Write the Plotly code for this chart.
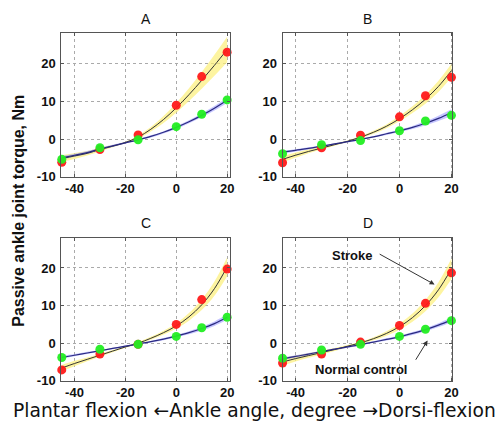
import plotly.graph_objects as go

# ---- data ----
angles = [-45, -30, -15, 0, 10, 20]
curve_x = [-45, -40, -35, -30, -25, -20, -15, -10, -5, 0, 5, 10, 15, 20]
panels = ["A", "B", "C", "D"]

stroke_pts = {
    "A": [-6.2, -2.8, 1.1, 9.0, 16.6, 23.1],
    "B": [-6.3, -2.3, 1.0, 5.9, 11.5, 16.4],
    "C": [-7.1, -2.9, -0.3, 5.0, 11.6, 19.7],
    "D": [-5.3, -2.9, 0.3, 4.7, 10.6, 18.7],
}
control_pts = {
    "A": [-5.4, -2.3, -0.2, 3.3, 6.6, 10.4],
    "B": [-3.9, -1.5, -0.4, 2.2, 4.8, 6.3],
    "C": [-3.8, -1.6, -0.3, 1.8, 4.1, 6.9],
    "D": [-4.0, -1.8, -0.3, 1.8, 3.7, 6.0],
}
stroke_curve = {
    "A": [-5.2, -4.5, -3.8, -2.8, -1.9, -0.9, 0.5, 2.6, 5.2, 8.3, 11.8, 15.6, 19.6, 23.8],
    "B": [-5.4, -4.3, -3.3, -2.4, -1.5, -0.6, 0.5, 1.8, 3.4, 5.4, 7.8, 10.6, 14.0, 18.2],
    "C": [-6.6, -5.4, -4.3, -3.2, -2.1, -1.0, 0.0, 1.3, 2.8, 4.6, 7.0, 10.2, 14.5, 20.3],
    "D": [-5.0, -4.1, -3.3, -2.5, -1.7, -0.8, 0.1, 1.2, 2.6, 4.4, 6.8, 10.0, 14.2, 19.8],
}
stroke_band = {
    "A": [0.9, 0.8, 0.6, 0.5, 0.3, 0.2, 0.4, 0.6, 0.9, 1.3, 1.7, 2.2, 2.8, 3.4],
    "B": [0.8, 0.7, 0.5, 0.4, 0.3, 0.2, 0.3, 0.4, 0.5, 0.7, 0.9, 1.2, 1.5, 1.8],
    "C": [0.8, 0.7, 0.5, 0.4, 0.3, 0.2, 0.3, 0.4, 0.5, 0.7, 1.0, 1.4, 1.9, 2.5],
    "D": [1.0, 0.8, 0.6, 0.5, 0.4, 0.3, 0.3, 0.4, 0.6, 0.8, 1.1, 1.5, 2.0, 2.7],
}
control_curve = {
    "A": [-5.0, -4.3, -3.6, -2.6, -1.8, -1.0, -0.2, 0.7, 1.8, 3.1, 4.6, 6.3, 8.2, 10.3],
    "B": [-3.5, -3.0, -2.5, -1.9, -1.3, -0.7, -0.1, 0.6, 1.4, 2.2, 3.1, 4.2, 5.5, 7.0],
    "C": [-3.8, -3.2, -2.6, -2.0, -1.4, -0.8, -0.2, 0.4, 1.1, 1.9, 2.8, 3.9, 5.2, 6.9],
    "D": [-4.2, -3.5, -2.9, -2.2, -1.6, -1.0, -0.4, 0.3, 1.0, 1.7, 2.6, 3.6, 4.8, 6.2],
}
control_band = {
    "A": [0.5, 0.4, 0.4, 0.3, 0.3, 0.2, 0.2, 0.3, 0.3, 0.4, 0.4, 0.5, 0.6, 0.7],
    "B": [0.4, 0.3, 0.3, 0.2, 0.2, 0.2, 0.2, 0.2, 0.3, 0.3, 0.4, 0.5, 0.7, 0.9],
    "C": [0.4, 0.3, 0.3, 0.2, 0.2, 0.2, 0.2, 0.2, 0.3, 0.3, 0.4, 0.5, 0.6, 0.7],
    "D": [0.4, 0.3, 0.3, 0.2, 0.2, 0.2, 0.2, 0.2, 0.3, 0.3, 0.4, 0.4, 0.5, 0.6],
}
x_ticks = [-40, -20, 0, 20]
x_ticktext = ["-40", "-20", "0", "20"]
y_ticks = [-10, 0, 10, 20]
y_ticktext = ["-10", "0", "10", "20"]

W, H = 499, 431
# pixel boxes (left, right, top, bottom) and axis ranges per panel
boxes = {
    "A": (62, 233, 34, 180),
    "B": (286, 458, 34, 180),
    "C": (62, 233, 242, 388),
    "D": (286, 458, 242, 388),
}
x_ranges = {"A": [-45.2, 21.2], "B": [-45.0, 20.4], "C": [-45.2, 21.2], "D": [-45.0, 20.4]}
y_range = [-10, 28.1]

FONT = "Liberation Sans, Arial, sans-serif"
fig = go.Figure()

for i, p in enumerate(panels):
    n = "" if i == 0 else str(i + 1)
    xa, ya = "x" + n, "y" + n
    su = [c + b for c, b in zip(stroke_curve[p], stroke_band[p])]
    sl = [c - b for c, b in zip(stroke_curve[p], stroke_band[p])]
    cu = [c + b for c, b in zip(control_curve[p], control_band[p])]
    cl = [c - b for c, b in zip(control_curve[p], control_band[p])]
    common = dict(xaxis=xa, yaxis=ya, showlegend=False, hoverinfo="skip")
    # stroke band
    fig.add_trace(go.Scatter(x=curve_x, y=sl, mode="lines", line=dict(width=0, shape="spline"), **common))
    fig.add_trace(go.Scatter(x=curve_x, y=su, mode="lines", line=dict(width=0, shape="spline"),
                             fill="tonexty", fillcolor="rgba(252,240,120,0.7)", **common))
    # control band
    fig.add_trace(go.Scatter(x=curve_x, y=cl, mode="lines", line=dict(width=0, shape="spline"), **common))
    fig.add_trace(go.Scatter(x=curve_x, y=cu, mode="lines", line=dict(width=0, shape="spline"),
                             fill="tonexty", fillcolor="rgba(140,140,255,0.5)", **common))
    # curves
    fig.add_trace(go.Scatter(x=curve_x, y=stroke_curve[p], mode="lines",
                             line=dict(color="#333333", width=1, shape="spline"), **common))
    fig.add_trace(go.Scatter(x=curve_x, y=control_curve[p], mode="lines",
                             line=dict(color="#2a2a80", width=1.2, shape="spline"), **common))
    # points
    fig.add_trace(go.Scatter(x=angles, y=stroke_pts[p], mode="markers",
                             marker=dict(color="#ff1a1a", size=9, opacity=0.95), cliponaxis=False, **common))
    fig.add_trace(go.Scatter(x=angles, y=control_pts[p], mode="markers",
                             marker=dict(color="#22ee22", size=9, opacity=0.95), cliponaxis=False, **common))

    l, r, t, b = boxes[p]
    axis_common = dict(showline=True, linecolor="#555555", linewidth=1, mirror="ticks",
                       ticks="inside", ticklen=3, tickcolor="#555555",
                       showgrid=True, gridcolor="#aaaaaa", griddash="dot", gridwidth=1,
                       zeroline=False, tickfont=dict(family=FONT, size=13, color="#111111", weight="bold"),
                       fixedrange=True)
    fig.update_layout(**{
        "xaxis" + n: dict(domain=[l / W, r / W], anchor=ya, range=x_ranges[p],
                          tickvals=x_ticks, ticktext=x_ticktext, **axis_common),
        "yaxis" + n: dict(domain=[1 - b / H, 1 - t / H], anchor=xa, range=y_range,
                          tickvals=y_ticks, ticktext=y_ticktext, ticklabelstandoff=2, **axis_common),
    })
    fig.add_annotation(text=p, xref="paper", yref="paper", x=(l + r) / 2 / W, y=1 - (t - 15) / H,
                       showarrow=False, font=dict(family=FONT, size=14, color="#111111"),
                       xanchor="center", yanchor="middle")

# panel D labels
fig.add_annotation(text="<b>Stroke</b>", xref="x4", yref="y4", x=-18.1, y=23.4, showarrow=False,
                   xanchor="center", yanchor="middle",
                   font=dict(family=FONT, size=13, color="#111111"))
fig.add_annotation(text="", xref="x4", yref="y4", x=13.5, y=15.6, axref="x4", ayref="y4", ax=-8.2, ay=23.9,
                   showarrow=True, arrowhead=2, arrowsize=1, arrowwidth=1, arrowcolor="#333333")
fig.add_annotation(text="<b>Normal control</b>", xref="x4", yref="y4", x=-15.0, y=-7.0, showarrow=False,
                   xanchor="center", yanchor="middle",
                   font=dict(family=FONT, size=13, color="#111111"))
fig.add_annotation(text="", xref="x4", yref="y4", x=10.8, y=0.7, axref="x4", ayref="y4", ax=5.9, ay=-4.8,
                   showarrow=True, arrowhead=2, arrowsize=1, arrowwidth=1, arrowcolor="#333333")

# axis titles
fig.add_annotation(text="<b>Passive ankle joint torque, Nm</b>", xref="paper", yref="paper",
                   x=18 / W, y=1 - 215 / H, textangle=-90, showarrow=False,
                   xanchor="center", yanchor="middle",
                   font=dict(family=FONT, size=16, color="#111111"))
fig.add_annotation(text="Plantar flexion \u2190Ankle angle, degree \u2192Dorsi-flexion", xref="paper", yref="paper",
                   x=258 / W, y=1 - 418 / H, showarrow=False,
                   xanchor="center", yanchor="middle",
                   font=dict(family="DejaVu Sans, sans-serif", size=18.7, color="#111111"))

fig.update_layout(width=W, height=H, margin=dict(l=0, r=0, t=0, b=0),
                  paper_bgcolor="white", plot_bgcolor="white", showlegend=False)
fig.write_html("out.html", config={"displayModeBar": False},
               post_script="document.body.style.margin='0';document.body.style.overflow='hidden';"
                           "document.documentElement.style.overflow='hidden';")
